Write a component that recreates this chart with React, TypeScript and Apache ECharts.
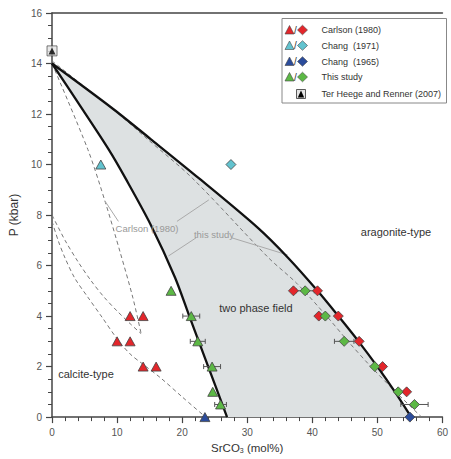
import React, { useEffect, useRef } from "react";
import * as echarts from "echarts";

// ---- data ----
const leftSolvus = [[0, 14], [4, 12.45], [8.7, 10.6], [11.3, 9.45], [15.2, 7.6], [18.9, 5.53], [21.1, 4], [24, 2], [26.9, 0]];
const rightSolvus = [[0, 14], [9.4, 12.2], [15.2, 11], [22.6, 9.45], [31.6, 7.5], [36.3, 6.3], [40.8, 5], [44, 4], [47.1, 3], [50, 2], [52.7, 1], [55.2, 0]];
const thisStudyDashed = [[0, 14.1], [9.9, 12.07], [14.7, 11], [21.6, 9.45], [33.3, 6.3], [37.6, 5.3], [42.2, 4], [45.5, 3], [49, 2], [52.8, 1], [56.8, 0]];
const carlsonDashed = [[0, 14], [5.5, 10.6], [8.2, 8.5], [10.5, 6.5], [12.4, 4.75], [13.7, 3.3]];
const calciteDashedA = [[0, 7.75], [1, 6.95], [2, 6.3], [3.5, 5.5], [5.5, 4.75], [7.7, 3.95], [10, 3.1], [12, 2.5], [14.2, 2.05], [16.7, 1.55], [20, 0.8], [23.6, 0]];
const calciteDashedB = [[0, 8], [2, 7.0], [4, 6.15], [6, 5.4], [8, 4.75], [10, 4.2], [12, 3.7], [13.7, 3.3]];

const redTri = [[10, 3], [12, 3], [12, 4], [14, 4], [14, 2], [16, 2]];
const redDia = [[37.1, 5], [40.8, 5], [41, 4], [44, 4], [47.2, 3], [50.8, 2], [54.5, 1]];
const cyanTri = [[7.5, 10]];
const cyanDia = [[27.5, 10]];
const blueTri = [[23.5, 0]];
const blueDia = [[55, 0]];
const greenTri = [[18.3, 5], [21.4, 4], [22.4, 3], [24.6, 2], [24.7, 1], [25.9, 0.5]];
const greenDia = [[38.9, 5], [42, 4], [44.9, 3], [49.6, 2], [53.2, 1], [55.7, 0.5]];
const terHeege = [[0, 14.5]];

const greenTriErr = [[21.4, 4, 1.3], [22.4, 3, 1.15], [24.6, 2, 1.3], [25.9, 0.5, 0.9]];
const greenDiaErr = [[38.9, 5, 1.4], [44.9, 3, 1.5], [55.7, 0.5, 2.1]];

const leaderLines = [
  [[8.2, 8.53], [10.2, 7.75]],
  [[19.2, 7.75], [24.1, 8.6]],
  [[22.15, 7.1], [17.9, 6.38]],
  [[27.6, 7.1], [36.2, 6.42]],
];

const xTicks = { min: 0, max: 60, interval: 10 };
const yTicks = { min: 0, max: 16, interval: 2 };

const legendRows = [
  { label: "Carlson (1980)", color: "#e3262b" },
  { label: "Chang  (1971)", color: "#62c3cf" },
  { label: "Chang  (1965)", color: "#2b4c9b" },
  { label: "This study", color: "#5cb845" },
];

const FONT = "Liberation Sans, Arial, Helvetica, sans-serif";
const RED = "#e3262b";
const CYAN = "#62c3cf";
const BLUE = "#2b4c9b";
const GREEN = "#5cb845";
const EDGE = "#444";

export default function App() {
  const ref = useRef<HTMLDivElement>(null);

  useEffect(() => {
    if (!ref.current) return;
    const chart = echarts.init(ref.current, undefined, { renderer: "svg" });

    const twoPhase = [...leftSolvus, ...[...rightSolvus].reverse()];

    const lineSeries = (data: number[][], solid: boolean, z: number) => ({
      type: "line",
      data,
      symbol: "none",
      silent: true,
      smooth: 0.3,
      z,
      lineStyle: solid
        ? { color: "#111", width: 2.3 }
        : { color: "#777", width: 1, type: [4, 3] },
    });

    const scatter = (data: number[][], symbol: string, color: string, size: any, z = 10) => ({
      type: "scatter",
      data,
      symbol,
      symbolSize: size,
      z,
      itemStyle: { color, borderColor: EDGE, borderWidth: 0.8, opacity: 1 },
    });

    const errSeries = (data: number[][]) => ({
      type: "custom",
      data,
      z: 8,
      silent: true,
      renderItem: (params: any, api: any) => {
        const x = api.value(0), y = api.value(1), e = api.value(2);
        const a = api.coord([x - e, y]);
        const b = api.coord([x + e, y]);
        const st = { stroke: "#555", lineWidth: 1 };
        return {
          type: "group",
          children: [
            { type: "line", shape: { x1: a[0], y1: a[1], x2: b[0], y2: b[1] }, style: st },
            { type: "line", shape: { x1: a[0], y1: a[1] - 2.5, x2: a[0], y2: a[1] + 2.5 }, style: st },
            { type: "line", shape: { x1: b[0], y1: b[1] - 2.5, x2: b[0], y2: b[1] + 2.5 }, style: st },
          ],
        };
      },
    });

    const legendChildren: any[] = [];
    legendChildren.push({
      type: "rect",
      shape: { x: 282, y: 18.5, width: 164.5, height: 84.5 },
      style: { fill: "#fff", stroke: "#888", lineWidth: 1 },
    });
    const rowsY = [30, 45.5, 61.5, 77];
    legendRows.forEach((r, i) => {
      const y = rowsY[i];
      legendChildren.push({
        type: "polygon",
        shape: { points: [[285, y + 4], [289.5, y - 4.5], [294, y + 4]] },
        style: { fill: r.color, stroke: EDGE, lineWidth: 0.6 },
      });
      legendChildren.push({
        type: "text",
        style: { text: "/", x: 295.5, y, fontSize: 10, fill: "#333", fontFamily: FONT, verticalAlign: "middle", align: "center" },
      });
      legendChildren.push({
        type: "polygon",
        shape: { points: [[302.5, y - 4.8], [307.5, y], [302.5, y + 4.8], [297.5, y]] },
        style: { fill: r.color, stroke: EDGE, lineWidth: 0.6 },
      });
      legendChildren.push({
        type: "text",
        style: { text: r.label, x: 321.5, y, fontSize: 9, fill: "#333", fontFamily: FONT, verticalAlign: "middle" },
      });
    });
    legendChildren.push({
      type: "rect",
      shape: { x: 296.5, y: 89.5, width: 9, height: 9 },
      style: { fill: "#e4e4e4", stroke: "#333", lineWidth: 0.8 },
    });
    legendChildren.push({
      type: "polygon",
      shape: { points: [[297.8, 97.5], [301, 90.5], [304.2, 97.5]] },
      style: { fill: "#000" },
    });
    legendChildren.push({
      type: "text",
      style: { text: "Ter Heege and Renner (2007)", x: 321.5, y: 94, fontSize: 9, fill: "#333", fontFamily: FONT, verticalAlign: "middle" },
    });

    const label = (text: string, x: number, y: number, size: number, color: string) => ({
      type: "text",
      z: 50,
      style: { text, x, y, fontSize: size, fill: color, fontFamily: FONT, align: "center", verticalAlign: "middle" },
    });

    const option: any = {
      animation: false,
      textStyle: { fontFamily: FONT },
      grid: { left: 48, right: 1, top: 13, bottom: 38 },
      xAxis: [
        {
          type: "value",
          ...xTicks,
          name: "SrCO{s|3} (mol%)",
          nameLocation: "middle",
          nameGap: 24,
          nameTextStyle: {
            fontSize: 11.5,
            color: "#333",
            fontFamily: FONT,
            rich: { s: { fontSize: 7, verticalAlign: "bottom", color: "#333", fontFamily: FONT, padding: [5, 0, 0, 0] } },
          },
          axisLine: { show: true, lineStyle: { color: EDGE, width: 1.5 } },
          axisTick: { show: true, length: 6, lineStyle: { color: EDGE, width: 1.2 } },
          minorTick: { show: true, splitNumber: 5, length: 4, lineStyle: { color: EDGE, width: 1 } },
          axisLabel: { fontSize: 10, color: "#555", margin: 10, fontFamily: FONT },
          splitLine: { show: false },
        },
        {
          type: "value",
          ...xTicks,
          position: "top",
          axisLine: { show: true, onZero: false, lineStyle: { color: EDGE, width: 1.5 } },
          axisTick: { show: false },
          axisLabel: { show: false },
          splitLine: { show: false },
        },
      ],
      yAxis: {
        type: "value",
        ...yTicks,
        name: "P (kbar)",
        nameLocation: "middle",
        nameGap: 28,
        nameTextStyle: { fontSize: 12, color: "#333", fontFamily: FONT },
        axisLine: { show: true, lineStyle: { color: EDGE, width: 1.5 } },
        axisTick: { show: true, length: 6, lineStyle: { color: EDGE, width: 1.2 } },
        minorTick: { show: true, splitNumber: 4, length: 4, lineStyle: { color: EDGE, width: 1 } },
        axisLabel: { fontSize: 10, color: "#555", margin: 10, fontFamily: FONT },
        splitLine: { show: false },
      },
      series: [
        {
          type: "custom",
          data: [[0, 0]],
          z: 1,
          silent: true,
          renderItem: (params: any, api: any) => ({
            type: "polygon",
            shape: { points: twoPhase.map((p) => api.coord(p)) },
            style: { fill: "#dde1e2" },
          }),
        },
        lineSeries(thisStudyDashed, false, 3),
        lineSeries(carlsonDashed, false, 3),
        lineSeries(calciteDashedA, false, 3),
        lineSeries(calciteDashedB, false, 3),
        ...leaderLines.map((d) => ({
          type: "line",
          data: d,
          symbol: "none",
          silent: true,
          z: 3,
          lineStyle: { color: "#aaa", width: 1 },
        })),
        lineSeries(leftSolvus, true, 4),
        lineSeries(rightSolvus, true, 4),
        errSeries(greenTriErr),
        errSeries(greenDiaErr),
        scatter(redTri, "triangle", RED, [10, 9]),
        scatter(cyanTri, "triangle", CYAN, [10, 9]),
        scatter(blueTri, "triangle", BLUE, [10, 9]),
        scatter(greenTri, "triangle", GREEN, [10, 9]),
        scatter(redDia, "diamond", RED, [10, 10]),
        scatter(cyanDia, "diamond", CYAN, [10, 10]),
        scatter(blueDia, "diamond", BLUE, [10, 10]),
        scatter(greenDia, "diamond", GREEN, [10, 10], 11),
        {
          type: "scatter",
          data: terHeege,
          symbol: "rect",
          symbolSize: 10,
          z: 12,
          itemStyle: { color: "#e4e4e4", borderColor: "#333", borderWidth: 0.8 },
        },
        {
          type: "scatter",
          data: terHeege,
          symbol: "triangle",
          symbolSize: [7, 7],
          z: 13,
          itemStyle: { color: "#000" },
        },
      ],
      graphic: [
        { type: "group", z: 100, children: legendChildren },
        label("aragonite-type", 396, 232, 11, "#333"),
        label("two phase field", 256, 308, 11, "#333"),
        label("calcite-type", 86, 374, 11, "#333"),
        label("Carlson (1980)", 147, 228.5, 9.5, "#999"),
        label("this study", 214, 234.5, 9.5, "#999"),
      ],
    };

    chart.setOption(option);
    return () => chart.dispose();
  }, []);

  return (
    <div
      ref={ref}
      style={{ width: 451, height: 459, position: "absolute", left: 0, top: 0, background: "#fff" }}
    />
  );
}
